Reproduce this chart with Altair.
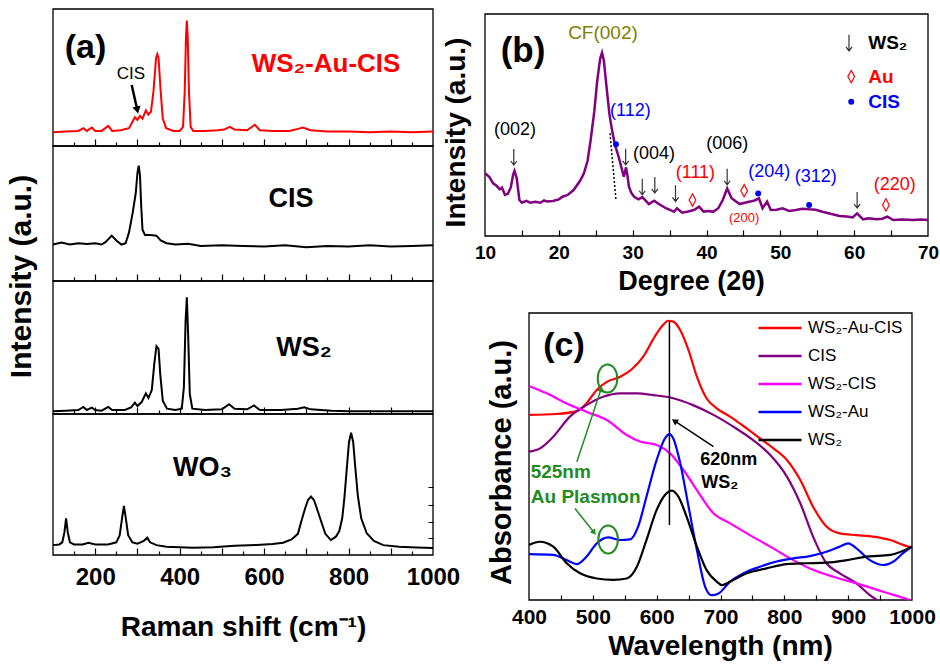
import altair as alt
import pandas as pd

FONT = "Liberation Sans"

# ---------------- Panel (a): Raman spectra (intensity, % of its sub-panel) ----------------
RAMAN_WSAUCIS_X = [100,130,160,172,180,192,200,215,231,240,260,280,294,300,306,312,320,326,332,338,
                   344,347,350,355,360,368,385,400,408,412,415,417,419,422,426,432,460,490,505,519,
                   530,560,578,590,620,660,680,692,710,750,800,850,900,950,1000]
RAMAN_WSAUCIS_Y = [10,10.5,11,13,11,13.5,11,11,14.6,11,11.5,13,21,19,22,20,26,23,25,40,
                   64,67,64,40,20,13,11,11,14,40,80,91.5,80,40,14,11,11,11.5,12,14,
                   12,11.5,15.5,11.5,11,11,12.5,13.4,11.5,10.5,10.5,10,10.5,10,10.5]

RAMAN_CIS_X = [100,120,140,160,180,200,215,225,239,250,262,272,280,289,296,300,303,306,309,312,
               318,330,345,355,369,390,420,450,500,550,600,650,700,750,800,850,900,950,1000]
RAMAN_CIS_Y = [27,28.5,27,28,27.5,28,27,29,33.6,30,27,28,36,51,65,80,85.4,78,55,38,
               34,34,33.6,30,28,27,27.5,26,26.5,26,25.5,26.5,25,26,25.5,26.5,25.5,26,26.5]

RAMAN_WS2_X = [100,130,160,172,180,192,200,215,231,240,270,285,294,300,310,320,326,334,340,345,
               350,354,360,370,390,405,410,414,417,420,424,430,460,500,517,530,560,576,590,640,
               680,695,710,760,800,900,1000]
RAMAN_WS2_Y = [2,2.5,3,5.3,3,4.8,3,2.5,5.3,3,3,5,8.5,6,9,15.5,12,18,38,51,
               49,30,10,4,3,4,20,70,87.7,60,15,4,3,3.5,7.3,4,3.5,6.5,3,3,
               4,5,3.5,2.5,2,2,2]

RAMAN_WO3_X = [100,115,122,127,131,135,140,150,170,184,200,230,250,258,264,268,272,278,288,300,
               315,323,330,345,369,400,432,480,530,582,620,645,665,680,689,697,704,711,718,725,
               734,745,758,770,778,785,790,796,801,806,811,816,822,830,843,860,882,920,961,1000]
RAMAN_WO3_Y = [7,7.5,9,16,26,16,9,7.5,7.5,8.7,7.5,7.5,9,14,27,34.8,27,14,9,8,
               10,12.3,9,7,5.9,5.5,5.2,5.5,6.5,7.1,7.8,8.7,11,15,24.8,33,39,41.4,39,33,
               24.8,15,10.6,13,17,26,40,62,80,86.8,80,62,42,26,15.4,10,7,5.8,5.4,5]

RAMAN_MAJOR = [200, 300, 400, 500, 600, 700, 800, 900]
RAMAN_MINOR = [150, 250, 350, 450, 550, 650, 750, 850, 950]
RAMAN_LABELS = [200, 400, 600, 800, 1000]
WO3_SIDE_TICKS = [12, 23.4, 35.5, 48]
CIS_ARROW_X = [286.4, 299.7]
CIS_ARROW_Y = [44.5, 26.3]

# ---------------- Panel (b): XRD ----------------
XRD_X = [10.0,10.6,11.1,11.6,12.0,12.3,12.7,13.1,13.5,13.8,14.0,14.3,14.66,15.0,15.6,16.1,16.8,17.5,18.0,18.4,
         19.2,20.0,20.5,21.2,22.0,22.9,23.4,23.9,24.3,24.8,25.2,25.6,25.85,26.1,26.5,26.85,27.2,27.6,28.1,28.5,
         28.8,29.1,29.3,29.5,29.8,30.2,30.8,31.3,31.6,32.2,32.9,33.5,34.5,35.2,35.6,36.0,36.7,37.5,38.3,39.0,
         39.6,40.3,40.9,41.6,42.2,42.8,43.4,44.0,44.5,45.2,45.9,46.5,47.1,47.6,48.2,48.7,49.5,50.3,51.2,52.1,
         53.0,53.9,54.8,55.7,56.8,58.0,59.0,59.8,60.4,61.2,62.0,63.0,63.8,64.5,65.3,66.5,68.0,69.0,70.0]
XRD_Y = [28.3,26.5,23.7,22.5,21.0,21.8,18.5,19.0,22.0,27.5,29.3,26.0,16.2,15.0,15.8,15.0,15.4,15.0,16.0,15.5,
         15.8,16.5,17.7,18.5,20.7,25.0,28.2,34.0,43,56,70,80,82.6,79,65.8,55,47.7,41,35.7,30.5,
         26.7,30.9,27,22.2,19.5,17.7,16.5,17.5,16.5,14.4,15.9,14.5,12.5,11.5,10.9,12.5,10.5,11.0,11.7,13.2,
         11.0,11.3,10.9,12.5,16.2,21.4,17.0,15.5,14.4,15.0,15.5,16.0,17.0,12.5,15.5,11.7,11.8,12.5,11.3,11.7,
         12.3,12.0,11.8,10.9,10.0,9.0,8.8,8.4,10.2,7.5,8.0,7.5,7.8,8.7,7.2,7.4,7.2,7.4,7.2]
XRD_TICKS = [15, 20, 25, 30, 35, 40, 45, 50, 55, 60, 65]
XRD_LABELS = [10, 20, 30, 40, 50, 60, 70]

HKL_BLACK = ["(002)", "(004)", "(006)"]
HKL_BLACK_X = [14.06, 32.9, 42.8]
HKL_BLACK_Y = [47.7, 36.8, 41.4]
HKL_BLUE = ["(112)", "(204)", "(312)"]
HKL_BLUE_X = [29.7, 48.5, 54.8]
HKL_BLUE_Y = [56.3, 29.0, 26.4]
HKL_RED = ["(111)", "(220)"]
HKL_RED_X = [38.5, 65.5]
HKL_RED_Y = [28.5, 23.0]
WS2_MARK_X = [13.9, 29.05, 31.3, 33.0, 35.8, 42.8, 60.4, 59.3]
WS2_MARK_Y = [35.6, 35.7, 22.2, 23.0, 19.2, 26.7, 16.2, 87.0]
AU_MARK_X = [38.1, 45.1, 64.3, 59.6]
AU_MARK_Y = [16.2, 20.4, 14.0, 71.8]
CIS_MARK_X = [27.74, 47.0, 53.9, 59.6]
CIS_MARK_Y = [41.3, 19.2, 14.0, 60.5]
CF_DASH_X = [26.93, 27.74]
CF_DASH_Y = [46.3, 16.2]
B_LEGEND = ["WS\u2082", "Au", "CIS"]
B_LEGEND_Y = [87.0, 71.8, 60.5]

# ---------------- Panel (c): absorbance ----------------
C_SERIES = ["WS\u2082-Au-CIS", "CIS", "WS\u2082-CIS", "WS\u2082-Au", "WS\u2082"]
C_COLORS = ["#FF0000", "#800080", "#FF00FF", "#0000FF", "#000000"]
ABS_WSAUCIS_X = [400,443,477,490,506,522,543,561,579,597,610,618,626,637,650,663,678,694,715,741,762,783,804,825,845,866,887,913,939,966,986,1000]
ABS_WSAUCIS_Y = [64.5,64.8,66,68.5,73.2,76,77.8,80.4,84.8,91.8,95.8,97.3,97,94,87,77.8,70.3,66.8,63.9,59.8,56.3,52.8,48.8,41.8,32.5,25.6,23.2,22.6,22.1,20.9,19.2,18.2]
ABS_CIS_X = [400,417,438,464,490,516,543,569,595,626,657,689,720,751,778,804,825,845,866,887,913,934,945]
ABS_CIS_Y = [51.7,52.8,56.9,63.9,67.9,70.8,72,72,71.4,70.3,67.9,64.5,60.4,55.7,50.5,43,33.7,22.1,12.8,9.3,5.8,1.7,0]
ABS_WSCIS_X = [400,428,459,490,522,553,574,600,621,642,663,689,715,746,778,809,840,877,913,955,997]
ABS_WSCIS_Y = [74.6,72,68.5,65.6,62.7,57.5,55.2,54,51.1,45.3,38.3,30.2,26.7,22.6,18.6,14.5,11,8.1,5.8,2.9,0]
ABS_WSAU_X = [400,438,459,475,490,506,524,543,558,571,584,600,613,620,626,637,650,663,676,686,697,715,736,762,788,814,840,866,887,900,913,934,955,971,986,1000]
ABS_WSAU_Y = [16,15.7,13.9,12.5,15.1,19.7,21.8,20.9,21.1,25.6,36,48.8,56.3,57.8,56.3,47.6,32.5,17.4,4.6,1.7,2.3,6.4,9.3,11.6,13.4,14.5,15.3,16.8,18.6,19.7,18,13.9,12.2,13.4,16.3,18.6]
ABS_WS2_X = [400,417,438,459,480,506,532,553,569,584,600,613,624,634,647,663,678,694,702,715,741,772,804,835,866,898,929,966,1000]
ABS_WS2_Y = [19.2,20.3,18.6,12.8,9.3,7.5,7,7.5,11.6,20.9,31.4,36.6,38.1,36,29,18.6,10.5,6.4,5.2,6.4,9.3,11,12.5,12.8,13,13.9,15.1,15.7,18.6]
ABS_TICKS = [450, 500, 550, 600, 650, 700, 750, 800, 850, 900, 950]
ABS_LABELS = [400, 500, 600, 700, 800, 900, 1000]
PEAK_LINE_X = [620, 620]
PEAK_LINE_Y = [26.1, 97.0]
PEAK_ARROW_X = [689, 628]
PEAK_ARROW_Y = [53.4, 62.4]
PLASMON_RING_X = [523, 524]
PLASMON_RING_Y = [77.2, 21.1]
GREEN_ARROW1_X = [475, 513]
GREEN_ARROW1_Y = [48.2, 73.5]
GREEN_ARROW2_X = [472, 502]
GREEN_ARROW2_Y = [31.9, 23.5]

GREEN = "#228B22"
DOWN_ARROW = "M0,-1L0,1M-0.38,0.5L0,1L0.38,0.5"


def S(dom, rng):
    return alt.Scale(domain=dom, range=rng, nice=False, zero=False)


AX = S([100, 1000], [53, 433])
AY = [S([0, 100], [146, 9]), S([0, 100], [281, 146]), S([0, 100], [414, 281]), S([0, 100], [555, 414])]
BX = S([10, 70], [485, 928])
BY = S([0, 100], [236, 14])
CX = S([400, 1000], [529, 912])
CY = S([0, 100], [600, 313])

ONE = pd.DataFrame({"k": [0]})


def frame(xs, ys, xd, yd, xaxis=None, yaxis=None):
    return alt.Chart(ONE).mark_rect(fillOpacity=0, stroke="black", strokeWidth=1.3).encode(
        x=alt.XDatum(xd[0], scale=xs, axis=xaxis), x2=alt.X2Datum(xd[1]),
        y=alt.YDatum(yd[0], scale=ys, axis=yaxis), y2=alt.Y2Datum(yd[1]))


def guide(xs, ys, x0, y0, xaxis=None, yaxis=None):
    return alt.Chart(ONE).mark_point(opacity=0).encode(
        x=alt.XDatum(x0, scale=xs, axis=xaxis), y=alt.YDatum(y0, scale=ys, axis=yaxis))


def line(xs, ys, xv, yv, **mk):
    df = pd.DataFrame({"x": xv, "y": yv})
    return alt.Chart(df).mark_line(**mk).encode(
        x=alt.X("x:Q", scale=xs, axis=None), y=alt.Y("y:Q", scale=ys, axis=None))


def points(xs, ys, xv, yv, **mk):
    df = pd.DataFrame({"x": xv, "y": yv})
    return alt.Chart(df).mark_point(**mk).encode(
        x=alt.X("x:Q", scale=xs, axis=None), y=alt.Y("y:Q", scale=ys, axis=None))


def texts(xs, ys, xv, yv, labels, size, color="black", weight="normal", align="center", font=FONT):
    df = pd.DataFrame({"x": xv, "y": yv, "t": labels})
    return alt.Chart(df).mark_text(font=font, fontSize=size, color=color, fontWeight=weight,
                                   align=align, baseline="middle").encode(
        x=alt.X("x:Q", scale=xs, axis=None), y=alt.Y("y:Q", scale=ys, axis=None), text="t:N")


def tick_axis(bottom_px, values, size):
    return alt.Axis(orient="top", offset=-bottom_px, values=values, labels=False, domain=False,
                    grid=False, ticks=True, tickSize=size, tickColor="black", tickWidth=1.2, title=None)


def label_axis(bottom_px, values, fsize, pad, title, tfs, tx, ty):
    return alt.Axis(orient="bottom", offset=bottom_px - 664, values=values, format="d", ticks=False,
                    tickSize=0, domain=False, grid=False, labelFont=FONT, labelFontSize=fsize,
                    labelFontWeight="bold", labelColor="black", labelPadding=pad, labelBaseline="middle",
                    labelFlush=False, labelOverlap=False, title=title, titleFont=FONT, titleFontSize=tfs,
                    titleFontWeight="bold", titleColor="black", titleX=tx, titleY=ty,
                    titleBaseline="middle", titleAlign="center")


def ytitle_axis(left_px, title, tfs, tx, ty):
    return alt.Axis(orient="left", offset=-left_px, labels=False, ticks=False, domain=False, grid=False,
                    title=title, titleFont=FONT, titleFontSize=tfs, titleFontWeight="bold",
                    titleColor="black", titleX=tx - left_px, titleY=ty, titleAngle=270,
                    titleBaseline="middle", titleAlign="center")


layers = []

# ---- panel (a)
spectra = [(RAMAN_WSAUCIS_X, RAMAN_WSAUCIS_Y, "#FF0000"), (RAMAN_CIS_X, RAMAN_CIS_Y, "black"),
           (RAMAN_WS2_X, RAMAN_WS2_Y, "black"), (RAMAN_WO3_X, RAMAN_WO3_Y, "black")]
bottoms = [146, 281, 414, 555]
for k in range(4):
    xa = None
    ya = None
    if k == 3:
        xa = label_axis(555, RAMAN_LABELS, 24, 22, "Raman shift (cm\u207b\u00b9)", 28, 243, 72)
    if k == 0:
        ya = ytitle_axis(53, "Intensity (a.u.)", 30, 21, 276)
    layers.append(frame(AX, AY[k], [100, 1000], [0, 100], xa, ya))
    layers.append(guide(AX, AY[k], 100, 0, xaxis=tick_axis(bottoms[k], RAMAN_MAJOR, 7)))
    layers.append(guide(AX, AY[k], 100, 0, xaxis=tick_axis(bottoms[k], RAMAN_MINOR, 4)))
    xs_, ys_, col = spectra[k]
    layers.append(line(AX, AY[k], xs_, ys_, color=col, strokeWidth=2))

layers.append(guide(AX, AY[3], 100, 0, yaxis=alt.Axis(
    orient="left", offset=-433, values=WO3_SIDE_TICKS, labels=False, domain=False, grid=False,
    ticks=True, tickSize=5, tickColor="black", title=None)))

layers.append(texts(AX, AY[0], [177], [71.5], ["(a)"], 34, weight="bold"))
layers.append(texts(AX, AY[0], [284.7], [52.6], ["CIS"], 17))
layers.append(texts(AX, AY[0], [746.6], [59.9], ["WS\u2082-Au-CIS"], 26, color="#FF0000", weight="bold"))
layers.append(line(AX, AY[0], CIS_ARROW_X, CIS_ARROW_Y, color="black", strokeWidth=2.5))
layers.append(points(AX, AY[0], CIS_ARROW_X[1:], CIS_ARROW_Y[1:], shape="triangle-up", angle=167,
                     filled=True, size=70, color="black", opacity=1))
layers.append(texts(AX, AY[1], [663.7], [60.7], ["CIS"], 27, weight="bold"))
layers.append(texts(AX, AY[2], [694.5], [49.6], ["WS\u2082"], 27, weight="bold"))
layers.append(texts(AX, AY[3], [454], [61.7], ["WO\u2083"], 27, weight="bold"))

# ---- panel (b)
layers.append(frame(BX, BY, [10, 70], [0, 100],
                    label_axis(236, XRD_LABELS, 19, 16, "Degree (2\u03b8)", 27, 691, 45),
                    ytitle_axis(485, "Intensity (a.u.)", 28, 456, 132)))
layers.append(guide(BX, BY, 10, 0, xaxis=tick_axis(236, XRD_TICKS, 6)))
layers.append(line(BX, BY, XRD_X, XRD_Y, color="#800080", strokeWidth=2.5))
layers.append(line(BX, BY, CF_DASH_X, CF_DASH_Y, color="black", strokeWidth=1.5, strokeDash=[2, 2]))
layers.append(texts(BX, BY, [15.15], [83.3], ["(b)"], 35, weight="bold"))
layers.append(texts(BX, BY, [25.98], [91.4], ["CF(002)"], 19, color="#808000"))
layers.append(texts(BX, BY, HKL_BLACK_X, HKL_BLACK_Y, HKL_BLACK, 18))
layers.append(texts(BX, BY, HKL_BLUE_X, HKL_BLUE_Y, HKL_BLUE, 18, color="#0000FF"))
layers.append(texts(BX, BY, HKL_RED_X, HKL_RED_Y, HKL_RED, 18, color="#FF0000"))
layers.append(texts(BX, BY, [45.1], [8.0], ["(200)"], 13, color="#FF0000"))
layers.append(points(BX, BY, WS2_MARK_X, WS2_MARK_Y, shape=DOWN_ARROW, size=260, filled=False,
                     color="#333333", strokeWidth=1.2, opacity=1))
layers.append(points(BX, BY, AU_MARK_X, AU_MARK_Y, shape="M0,-1L0.55,0L0,1L-0.55,0Z", size=150,
                     filled=False, color="#FF0000", strokeWidth=1.2, opacity=1))
layers.append(points(BX, BY, CIS_MARK_X, CIS_MARK_Y, shape="circle", size=35, filled=True,
                     color="#0000FF", opacity=1))
layers.append(texts(BX, BY, [61.9], [B_LEGEND_Y[0]], [B_LEGEND[0]], 19, weight="bold", align="left"))
layers.append(texts(BX, BY, [61.9], [B_LEGEND_Y[1]], [B_LEGEND[1]], 19, color="#FF0000", weight="bold", align="left"))
layers.append(texts(BX, BY, [61.9], [B_LEGEND_Y[2]], [B_LEGEND[2]], 19, color="#0000FF", weight="bold", align="left"))

# ---- panel (c)
abs_rows = []
for name, xv, yv in zip(C_SERIES,
                        [ABS_WSAUCIS_X, ABS_CIS_X, ABS_WSCIS_X, ABS_WSAU_X, ABS_WS2_X],
                        [ABS_WSAUCIS_Y, ABS_CIS_Y, ABS_WSCIS_Y, ABS_WSAU_Y, ABS_WS2_Y]):
    for a, b in zip(xv, yv):
        abs_rows.append({"series": name, "x": a, "y": b})
abs_df = pd.DataFrame(abs_rows)

layers.append(frame(CX, CY, [400, 1000], [0, 100],
                    label_axis(600, ABS_LABELS, 21, 17, "Wavelength (nm)", 28, 720, 46),
                    ytitle_axis(529, "Absorbance (a.u.)", 29, 501, 462)))
layers.append(guide(CX, CY, 400, 0, xaxis=tick_axis(600, ABS_TICKS, 5)))
layers.append(alt.Chart(abs_df).mark_line(strokeWidth=2.2, interpolate="monotone").encode(
    x=alt.X("x:Q", scale=CX, axis=None),
    y=alt.Y("y:Q", scale=CY, axis=None),
    color=alt.Color("series:N", sort=C_SERIES, scale=alt.Scale(domain=C_SERIES, range=C_COLORS),
                    legend=alt.Legend(orient="none", legendX=757, legendY=314, title=None,
                                      symbolType="stroke", symbolSize=1850, symbolStrokeWidth=2.4,
                                      labelFont=FONT, labelFontSize=17, labelColor="black",
                                      labelOffset=5, clipHeight=28, rowPadding=0, padding=0))))
layers.append(line(CX, CY, PEAK_LINE_X, PEAK_LINE_Y, color="black", strokeWidth=1.5))
layers.append(line(CX, CY, PEAK_ARROW_X, PEAK_ARROW_Y, color="black", strokeWidth=1.5))
layers.append(points(CX, CY, PEAK_ARROW_X[1:], PEAK_ARROW_Y[1:], shape="triangle-up", angle=304,
                     filled=True, size=50, color="black", opacity=1))
layers.append(points(CX, CY, PLASMON_RING_X, PLASMON_RING_Y,
                     shape="M0,-1A0.7,1,0,1,1,0,1A0.7,1,0,1,1,0,-1Z", size=784, filled=False,
                     color=GREEN, strokeWidth=2, opacity=1))
layers.append(line(CX, CY, GREEN_ARROW1_X, GREEN_ARROW1_Y, color=GREEN, strokeWidth=1.5))
layers.append(points(CX, CY, GREEN_ARROW1_X[1:], GREEN_ARROW1_Y[1:], shape="triangle-up", angle=18,
                     filled=True, size=40, color=GREEN, opacity=1))
layers.append(line(CX, CY, GREEN_ARROW2_X, GREEN_ARROW2_Y, color=GREEN, strokeWidth=1.5))
layers.append(points(CX, CY, GREEN_ARROW2_X[1:], GREEN_ARROW2_Y[1:], shape="triangle-up", angle=142,
                     filled=True, size=40, color=GREEN, opacity=1))
layers.append(texts(CX, CY, [454.8], [88.5], ["(c)"], 34, weight="bold"))
layers.append(texts(CX, CY, [712.9], [48.8], ["620nm"], 18, weight="bold"))
layers.append(texts(CX, CY, [698.8], [40.7], ["WS\u2082"], 18, weight="bold"))
layers.append(texts(CX, CY, [449.7], [44.7], ["525nm"], 19, color=GREEN, weight="bold"))
layers.append(texts(CX, CY, [488.8], [36.0], ["Au Plasmon"], 19, color=GREEN, weight="bold"))

chart = alt.layer(*layers).resolve_scale(
    x="independent", y="independent", color="independent"
).resolve_axis(x="independent", y="independent").properties(
    width=940, height=664, padding=0, autosize="none", background="white"
).configure_view(stroke=None).configure_axis(grid=False)

chart.save("out.html", embed_options={"renderer": "svg", "actions": False})
